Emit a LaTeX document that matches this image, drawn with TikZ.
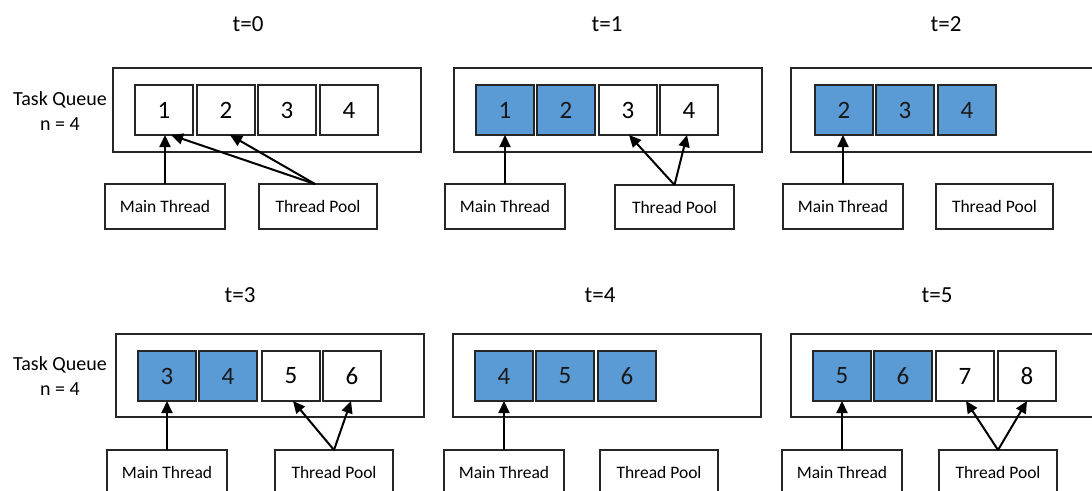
\documentclass[tikz,border=0pt]{standalone}
\usepackage{fontspec}
\setmainfont{Carlito}
\usetikzlibrary{arrows.meta}
\definecolor{qblue}{HTML}{5B9BD5}
\definecolor{edge}{HTML}{262626}
\begin{document}
\begin{tikzpicture}[x=1pt,y=-1pt,
  frame/.style={draw=edge,line width=1.1pt,minimum width=308pt,minimum height=84pt,inner sep=0pt,outer sep=0pt,anchor=north west},
  cellw/.style={draw=edge,line width=1.1pt,fill=white,minimum width=58pt,minimum height=50pt,inner sep=0pt,outer sep=0pt,anchor=north west,font=\fontsize{25}{27}\selectfont},
  cellb/.style={cellw,fill=qblue,text=black!90},
  thr/.style={draw=edge,line width=1.1pt,minimum width=120pt,minimum height=45pt,inner sep=0pt,outer sep=0pt,anchor=north west,font=\fontsize{17.5}{20}\selectfont},
  ttl/.style={font=\fontsize{23}{26}\selectfont},
  lbl/.style={font=\fontsize{20}{25}\selectfont,align=center},
  arr/.style={-{Triangle[length=12pt,width=11pt]},line width=2pt,black}]
\useasboundingbox (0,0) rectangle (1092,490);
\clip (0,0) rectangle (1092,490);
\fill[white] (0,0) rectangle (1092,490);

% ---------- labels ----------
\node[lbl] (tq0) at (60,111) {Task Queue\\n = 4};
\node[lbl] (tq3) at (60,376) {Task Queue\\n = 4};

% ---------- t=0 ----------
\node[ttl] (t0) at (248,24) {t=0};
\node[frame] (f0) at (113,68) {};
\node[cellw] (c01) at (135,85) {1};
\node[cellw] (c02) at (197,85) {2};
\node[cellw] (c03) at (258,85) {3};
\node[cellw] (c04) at (320,85) {4};
\node[thr] (mt0) at (105,184) {Main Thread};
\node[thr,minimum width=118pt] (tp0) at (259,184) {Thread Pool};
\draw[arr] (mt0.north) -- (mt0.north |- c01.south);
\draw[arr] ([xshift=-3pt]tp0.north) -- ([xshift=7pt]c01.south);
\draw[arr] ([xshift=-3pt]tp0.north) -- ([xshift=4pt]c02.south);

% ---------- t=1 ----------
\node[ttl] (t1) at (607,24) {t=1};
\node[frame] (f1) at (454,68) {};
\node[cellb] (c11) at (476,85) {1};
\node[cellb] (c12) at (537,85) {2};
\node[cellw] (c13) at (599,85) {3};
\node[cellw] (c14) at (660,85) {4};
\node[thr] (mt1) at (445,184) {Main Thread};
\node[thr,minimum width=119pt,minimum height=44pt] (tp1) at (615,185) {Thread Pool};
\draw[arr] (mt1.north) -- (mt1.north |- c11.south);
\draw[arr] (tp1.north) -- ([xshift=1pt]c13.south);
\draw[arr] (tp1.north) -- ([xshift=-2pt]c14.south);

% ---------- t=2 ----------
\node[ttl] (t2) at (946,24) {t=2};
\node[frame] (f2) at (791,68) {};
\node[cellb] (c22) at (815,85) {2};
\node[cellb] (c23) at (876,85) {3};
\node[cellb] (c24) at (938,85) {4};
\node[thr] (mt2) at (783,184) {Main Thread};
\node[thr,minimum width=117pt] (tp2) at (936,184) {Thread Pool};
\draw[arr] (mt2.north) -- (mt2.north |- c22.south);

% ---------- t=3 ----------
\node[ttl] (t3) at (240,295) {t=3};
\node[frame,minimum height=83pt] (f3) at (116,334) {};
\node[cellb] (c33) at (138,351) {3};
\node[cellb] (c34) at (199,351) {4};
\node[cellw] (c35) at (262,351) {5};
\node[cellw] (c36) at (323,351) {6};
\node[thr] (mt3) at (107,450) {Main Thread};
\node[thr,minimum width=118pt] (tp3) at (275,450) {Thread Pool};
\draw[arr] (mt3.north) -- (mt3.north |- c33.south);
\draw[arr] (tp3.north) -- ([xshift=2pt]c35.south);
\draw[arr] (tp3.north) -- ([xshift=-1pt]c36.south);

% ---------- t=4 ----------
\node[ttl] (t4) at (600,295) {t=4};
\node[frame,minimum height=83pt] (f4) at (453,334) {};
\node[cellb] (c44) at (475,351) {4};
\node[cellb] (c45) at (536,351) {5};
\node[cellb] (c46) at (598,351) {6};
\node[thr] (mt4) at (444,450) {Main Thread};
\node[thr,minimum width=118pt] (tp4) at (600,450) {Thread Pool};
\draw[arr] (mt4.north) -- (mt4.north |- c44.south);

% ---------- t=5 ----------
\node[ttl] (t5) at (937,295) {t=5};
\node[frame,minimum height=83pt] (f5) at (791,334) {};
\node[cellb] (c55) at (813,351) {5};
\node[cellb] (c56) at (874,351) {6};
\node[cellw] (c57) at (936,351) {7};
\node[cellw] (c58) at (998,351) {8};
\node[thr] (mt5) at (782,450) {Main Thread};
\node[thr,minimum width=118pt] (tp5) at (939,450) {Thread Pool};
\draw[arr] (mt5.north) -- (mt5.north |- c55.south);
\draw[arr] (tp5.north) -- ([xshift=1pt]c57.south);
\draw[arr] (tp5.north) -- (c58.south);
\end{tikzpicture}
\end{document}
